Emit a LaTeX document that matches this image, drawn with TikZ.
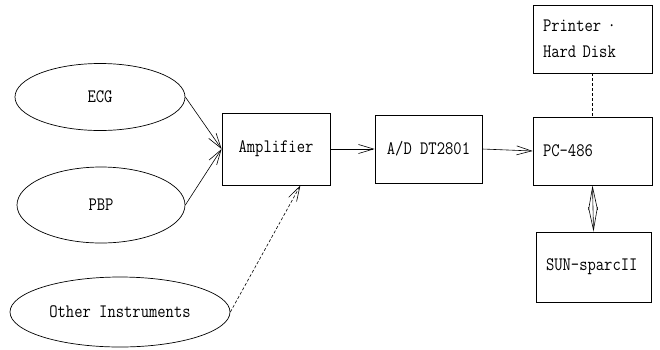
\documentclass[tikz,border=0pt]{standalone}
\usepackage{fontspec}
\setmonofont[FakeStretch=0.85]{Latin Modern Mono}
\usepackage{tikz}
\usetikzlibrary{shapes.geometric,arrows.meta,calc}

\begin{document}
\begin{tikzpicture}[x=1pt, y=-1pt,
        font=\ttfamily\fontsize{19}{26}\selectfont,
        src/.style={ellipse, draw, line width=0.7pt, inner sep=0pt},
        blk/.style={rectangle, draw, line width=0.8pt, inner sep=0pt},
        lblk/.style={blk, align=left, text width=#1, inner xsep=10pt},
        tip/.style={-{Straight Barb[length=15pt, width=9pt]}, line width=0.6pt}]
    \useasboundingbox (0,0) rectangle (660,349);

    \node[src, minimum width=170pt, minimum height=67pt] (ecg) at (100,97) {ECG};
    \node[src, minimum width=168pt, minimum height=76pt] (pbp) at (101,205) {PBP};
    \node[src, minimum width=220pt, minimum height=70pt] (oth) at (120,312) {Other Instruments};

    \node[blk, minimum width=108pt, minimum height=72pt] (amp) at (276,149) {Amplifier};
    \node[blk, minimum width=107pt, minimum height=68pt] (adc) at (428.5,149) {A/D DT2801};
    \node[lblk=99pt, minimum height=68pt] (pc) at (592.5,151) {PC-486};
    \node[lblk=99pt, minimum height=68pt] (prn) at (592.5,39) {Printer ·\\Hard Disk};
    \node[lblk=95pt, minimum height=70pt] (sun) at (593.5,267) {SUN-sparcII};

    \draw[tip] (ecg.east) -- (amp.west);
    \draw[tip] (pbp.east) -- (amp.west);
    \draw[tip, dashed, dash pattern=on 3pt off 2pt] (oth.east) -- ([xshift=-30pt]amp.south east);
    \draw[tip] (amp.east) -- (adc.west);
    \draw[tip] (adc.east) -- (pc.west);
    \draw[line width=0.5pt, dash pattern=on 3pt off 2pt] (prn.south) -- (pc.north);
    \draw[{Straight Barb[length=23pt, width=9pt]}-{Straight Barb[length=23pt, width=9pt]}, line width=0.6pt] (pc.south) -- (sun.north);
\end{tikzpicture}
\end{document}
